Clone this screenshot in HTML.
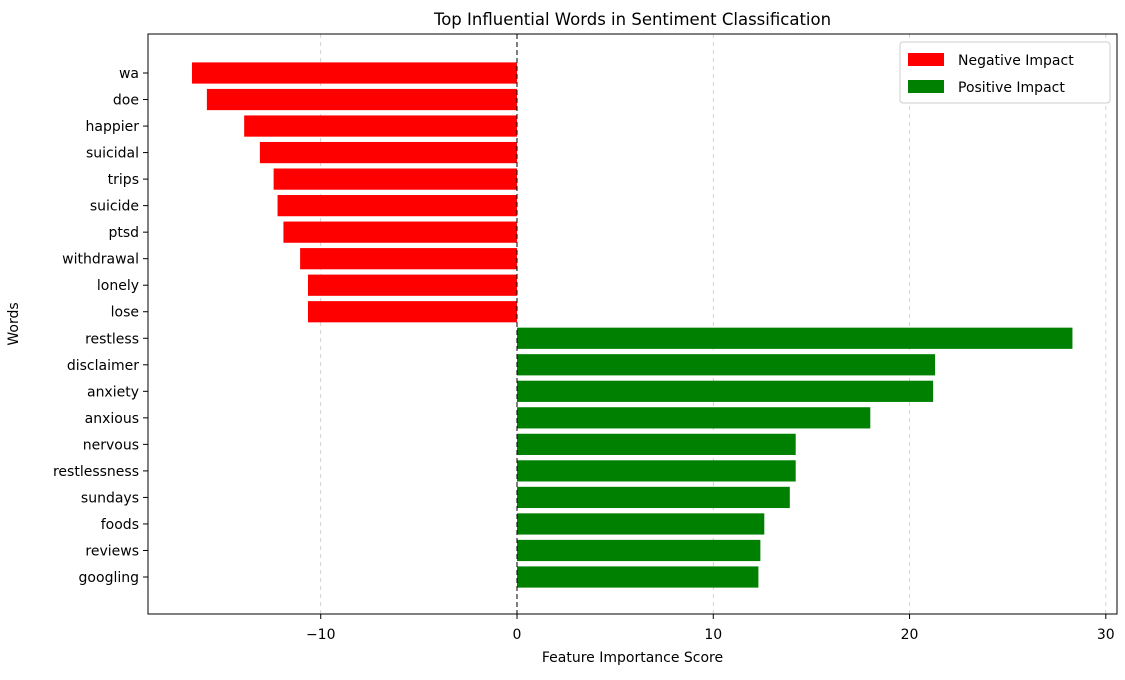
<!DOCTYPE html>
<html><head><meta charset="utf-8"><style>
body{margin:0;background:#fff;font-family:"Liberation Sans","DejaVu Sans",sans-serif;}
svg text{font-family:"DejaVu Sans","Liberation Sans",sans-serif;}
</style></head><body>
<svg id="chart" width="1125" height="675"></svg>
<script>
const words=["wa","doe","happier","suicidal","trips","suicide","ptsd","withdrawal","lonely","lose","restless","disclaimer","anxiety","anxious","nervous","restlessness","sundays","foods","reviews","googling"];
const scores=[-16.56,-15.8,-13.9,-13.1,-12.4,-12.2,-11.9,-11.05,-10.65,-10.65,28.3,21.3,21.2,18.0,14.2,14.2,13.9,12.6,12.4,12.3];
const xTicks=[-10,0,10,20,30];
const xTickLabels=["−10","0","10","20","30"];

const NS="http://www.w3.org/2000/svg";
const svg=document.getElementById('chart');
const L=148,R=1117,T=34,B=614;
const xmin=-18.8,xmax=30.57;
const x=v=>L+(v-xmin)/(xmax-xmin)*(R-L);
const step=(577-73)/19;
const y=i=>73+i*step;
function mk(tag,attrs,txt){const e=document.createElementNS(NS,tag);for(const k in attrs)e.setAttribute(k,attrs[k]);if(txt!==undefined)e.textContent=txt;svg.appendChild(e);return e;}

xTicks.forEach((t,i)=>{
  const g=mk('line',{x1:x(t),x2:x(t),y1:T,y2:B,stroke:'#b0b0b0','stroke-dasharray':'4,4','stroke-width':0.8,opacity:0.7});
  
  
  const tk=mk('line',{x1:x(t),x2:x(t),y1:B,y2:B+5,stroke:'#000'});
  
  
  const lb=mk('text',{x:x(t),y:B+25,'text-anchor':'middle','font-size':14,fill:'#000'},xTickLabels[i]);
  
  
});

words.forEach((w,i)=>{
  const v=scores[i];
  const bh=step*0.8;
  const r=mk('rect',{x:Math.min(x(0),x(v)),y:y(i)-bh/2,width:Math.abs(x(v)-x(0)),height:bh,fill:v<0?'#ff0000':'#008000'});
  
  
  const tk=mk('line',{x1:L-5,x2:L,y1:y(i),y2:y(i),stroke:'#000'});
  
  
  const lb=mk('text',{x:L-9,y:y(i)+5,'text-anchor':'end','font-size':14,fill:'#000'},w);
  
  
});

const zl=mk('line',{x1:x(0),x2:x(0),y1:T,y2:B,stroke:'#000','stroke-dasharray':'5,3','stroke-width':1});


const fr=mk('rect',{x:L,y:T,width:R-L,height:B-T,fill:'none',stroke:'#000','stroke-width':1});



const tt=mk('text',{x:(L+R)/2,y:25,'text-anchor':'middle','font-size':16.5,fill:'#000'},'Top Influential Words in Sentiment Classification');


const xt=mk('text',{x:(L+R)/2,y:662,'text-anchor':'middle','font-size':14,fill:'#000'},'Feature Importance Score');


const yt=mk('text',{x:18,y:(T+B)/2,'text-anchor':'middle','font-size':14,fill:'#000',transform:`rotate(-90 18 ${(T+B)/2})`},'Words');



const lg=mk('rect',{x:900,y:42,width:210,height:61,fill:'#fff',stroke:'#ccc',rx:3});


[['Negative Impact','#ff0000',60],['Positive Impact','#008000',87]].forEach(([t,c,yy])=>{
  const s=mk('rect',{x:908,y:yy-7,width:36,height:13,fill:c});
  
  
  const l=mk('text',{x:958,y:yy+5,'font-size':14,fill:'#000'},t);
  
  
});
</script>
</body></html>
